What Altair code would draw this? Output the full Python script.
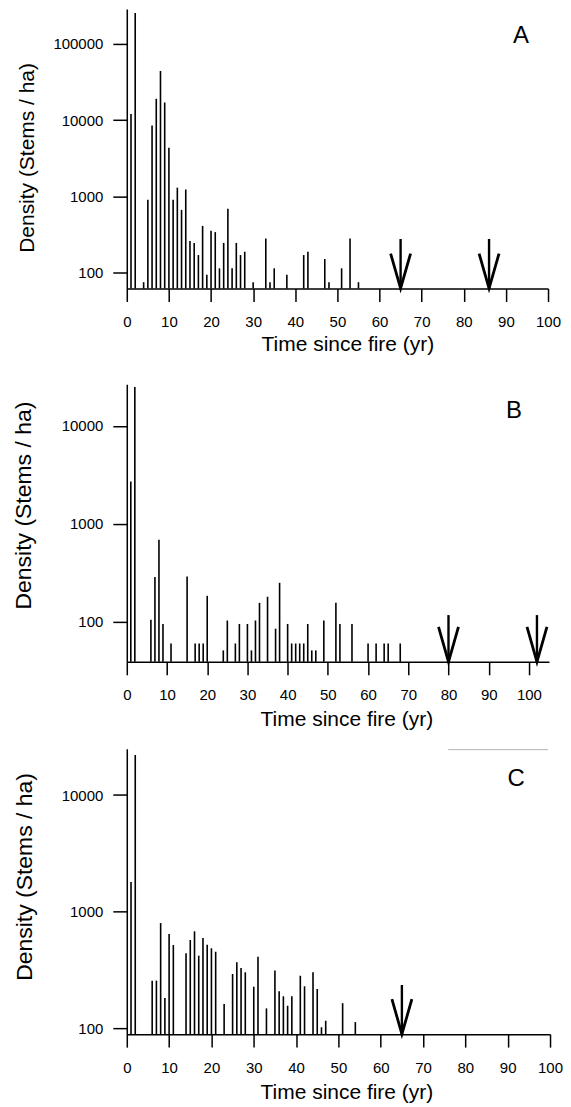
import altair as alt
import pandas as pd

FONT = "Liberation Sans"

# Panel A
A_years = [1, 2, 4, 5, 6, 7, 8, 9, 10, 11, 12, 13, 14, 15, 16, 17, 18, 19, 20, 21,
           22, 23, 24, 25, 26, 27, 28, 30, 33, 34, 35, 38, 42, 43, 47, 48, 51, 53, 55]
A_vals = [12000, 254000, 75, 900, 8500, 19000, 44000, 17000, 4350, 900, 1300, 665,
          1230, 260, 245, 170, 410, 94, 355, 340, 114, 245, 690, 114, 245, 170, 188,
          75, 280, 75, 114, 94, 170, 188, 151, 75, 114, 280, 75]
A_arrows = [65, 86]
A_arrow_tops = [276, 276]

# Panel B
B_years = [1, 2, 6, 7, 8, 9, 11, 15, 17, 18, 19, 20, 24, 25, 27, 28, 30, 31, 32, 33,
           35, 37, 38, 40, 41, 42, 43, 44, 45, 46, 47, 49, 52, 53, 56, 60, 62, 64, 65, 68]
B_vals = [2700, 25000, 105, 287, 687, 95, 60, 290, 60, 60, 60, 184, 51, 103, 60, 95,
          95, 51, 103, 156, 180, 85, 250, 95, 60, 60, 60, 60, 95, 51, 51, 103, 156, 95,
          95, 60, 60, 60, 60, 60]
B_arrows = [80, 102]
B_arrow_tops = [117, 117]

# Panel C
C_years = [1, 2, 6, 7, 8, 9, 10, 11, 14, 15, 16, 17, 18, 19, 20, 21, 23, 25, 26, 27,
           28, 30, 31, 33, 35, 36, 37, 38, 39, 41, 42, 44, 45, 46, 47, 51, 54]
C_vals = [1800, 22000, 256, 256, 798, 182, 643, 518, 440, 571, 678, 419, 594, 520, 485,
          453, 161, 292, 368, 329, 302, 227, 411, 148, 312, 208, 188, 156, 188, 282, 229,
          302, 217, 102, 116, 164, 113]
C_arrows = [65]
C_arrow_tops = [235]

x_ticks = list(range(0, 101, 10))


def panel(years, vals, arrows, arrow_tops, base, top, xmax, width, height, yticks,
          letter, letter_xy, ytitle_size, ytitle_x, ytitle_y, xtitle_x, xtitle_y,
          extra_line=False):
    df = pd.DataFrame({"year": years, "density": vals, "base": [base] * len(years)})
    xs = alt.X("year:Q",
               scale=alt.Scale(domain=[0, xmax], nice=False, zero=False),
               axis=alt.Axis(values=x_ticks, format="d", title="Time since fire (yr)",
                             titleX=xtitle_x, titleY=xtitle_y, titleBaseline="middle",
                             titleAlign="center", labelFlush=False))
    ys = alt.Y("density:Q",
               scale=alt.Scale(type="log", domain=[base, top], nice=False),
               axis=alt.Axis(values=yticks, format="d", title="Density (Stems / ha)",
                             titleFontSize=ytitle_size, titleX=ytitle_x, titleY=ytitle_y,
                             titleBaseline="middle", titleAlign="center"))
    bars = alt.Chart(df).mark_rule(color="black", strokeWidth=1.6).encode(
        x=xs, y=ys, y2="base:Q")

    adf = pd.DataFrame({"year": arrows, "density": arrow_tops,
                        "base": [base] * len(arrows)})
    shafts = alt.Chart(adf).mark_rule(color="black", strokeWidth=2.4).encode(
        x="year:Q", y="density:Q", y2="base:Q")
    hdf = pd.DataFrame({"year": arrows, "density": [base] * len(arrows)})
    heads = alt.Chart(hdf).mark_point(
        shape="M-0.571,-1L0,1L0.571,-1", filled=False, size=1225, strokeWidth=2.8,
        color="black", opacity=1, yOffset=-17.5, strokeJoin="miter"
    ).encode(x="year:Q", y="density:Q")

    ldf = pd.DataFrame({"label": [letter]})
    lab = alt.Chart(ldf).mark_text(font=FONT, fontSize=24, color="black",
                                   align="center", baseline="middle").encode(
        text="label:N", x=alt.value(letter_xy[0]), y=alt.value(letter_xy[1]))

    layers = [bars, shafts, heads, lab]
    if extra_line:
        line = alt.Chart(ldf).mark_rule(color="#b4b4b4", strokeWidth=1).encode(
            x=alt.value(322), x2=alt.value(422), y=alt.value(1))
        layers.append(line)
    return alt.layer(*layers).properties(width=width, height=height)


pA = panel(A_years, A_vals, A_arrows, A_arrow_tops, 62, 286000, 100, 422, 280,
           [100, 1000, 10000, 100000], "A", (395, 27), 21, -99, 148.7, 221, 56)
pB = panel(B_years, B_vals, B_arrows, B_arrow_tops, 39, 26600, 105, 423, 278,
           [100, 1000, 10000], "B", (388, 26.7), 23, -103, 121, 220, 58)
pC = panel(C_years, C_vals, C_arrows, C_arrow_tops, 89, 25000, 100, 424, 286,
           [100, 1000, 10000], "C", (390, 30.7), 23, -102, 128, 220, 58,
           extra_line=True)

chart = alt.vconcat(alt.vconcat(pA, pB, spacing=30), pC, spacing=19).properties(
    padding={"left": 4, "top": 0, "right": 0, "bottom": 0}
).configure_view(stroke=None).configure_axis(
    domainColor="black", domainWidth=1.5, tickColor="black", tickWidth=1.5,
    labelColor="black", labelFont=FONT, labelFontSize=15, titleFont=FONT,
    titleColor="black", titleFontWeight="normal", titleFontSize=21, grid=False
).configure_axisX(
    tickSize=13, labelPadding=13
).configure_axisY(
    tickSize=14, labelPadding=10
)

chart.save("out.html", embed_options={"renderer": "svg", "actions": False})
